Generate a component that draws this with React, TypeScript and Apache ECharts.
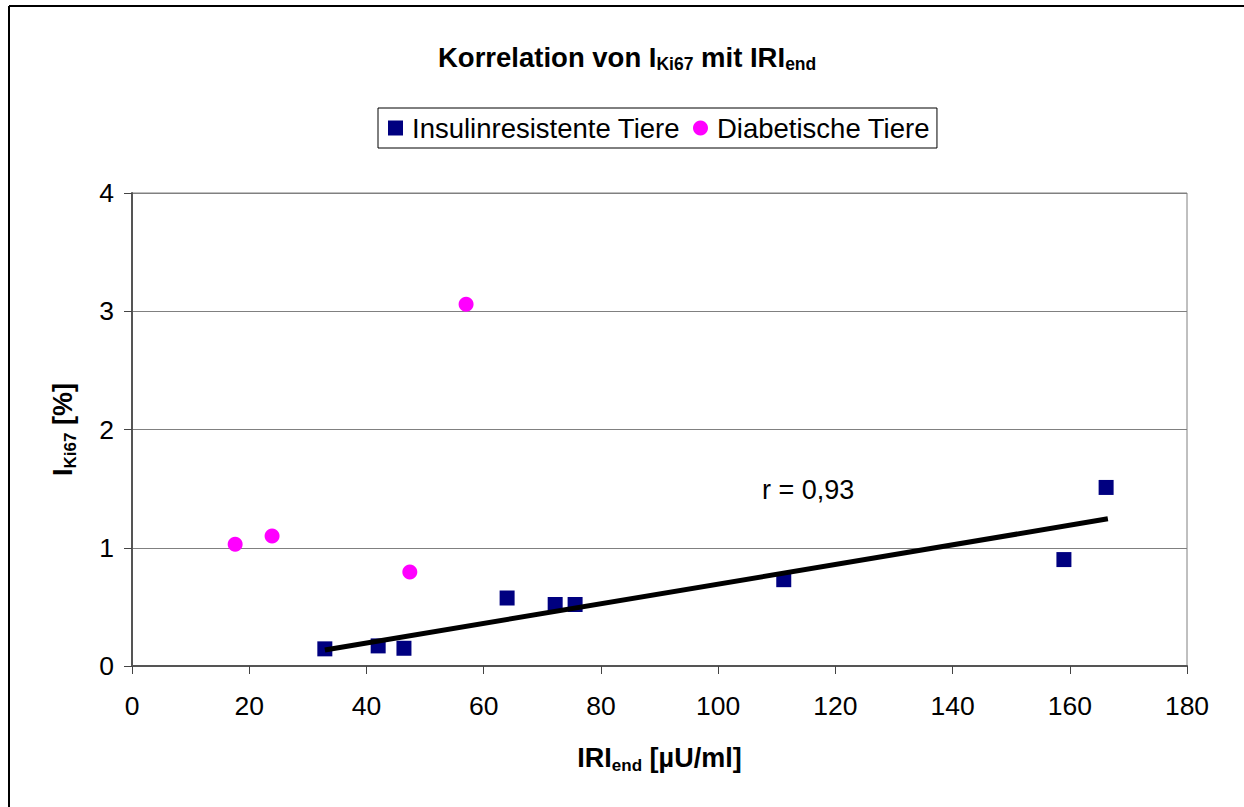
import React, { useEffect, useRef } from "react";
import * as echarts from "echarts";

const insulinResistant: [number, number][] = [
  [32.9, 0.145],
  [42.0, 0.17],
  [46.4, 0.15],
  [64.0, 0.575],
  [72.2, 0.52],
  [75.6, 0.52],
  [111.2, 0.73],
  [159.0, 0.9],
  [166.2, 1.51],
];

const diabetic: [number, number][] = [
  [17.6, 1.03],
  [23.9, 1.1],
  [47.4, 0.795],
  [57.0, 3.06],
];

const trendLine: [number, number][] = [
  [32.9, 0.135],
  [166.5, 1.245],
];

const xTicks = { min: 0, max: 180, interval: 20 };
const yTicks = { min: 0, max: 4, interval: 1 };
const seriesNames = ["Insulinresistente Tiere", "Diabetische Tiere"];
const corrLabel = "r = 0,93";

const FONT = "'Liberation Sans', Arial, sans-serif";

const richTitle = (main: number, sub: number) => ({
  m: { fontFamily: FONT, fontSize: main, fontWeight: "bold", color: "#000", lineHeight: 30, verticalAlign: "top" },
  s: { fontFamily: FONT, fontSize: sub, fontWeight: "bold", color: "#000", lineHeight: sub, verticalAlign: "bottom" },
});

export default function App() {
  const ref = useRef<HTMLDivElement>(null);
  useEffect(() => {
    if (!ref.current) return;
    const chart = echarts.init(ref.current, undefined, { renderer: "svg" });
    chart.setOption({
      animation: false,
      backgroundColor: "#fff",
      textStyle: { fontFamily: FONT },
      title: {
        text: "{m|Korrelation von I}{s|Ki67}{m| mit IRI}{s|end}",
        left: 438,
        top: 43,
        padding: 0,
        textStyle: { rich: richTitle(27.5, 17.5) },
      },
      legend: {
        data: seriesNames,
        left: 378,
        top: 108,
        orient: "horizontal",
        borderColor: "#000",
        borderWidth: 1,
        padding: [6, 7, 6, 10],
        itemGap: 13,
        itemWidth: 15,
        itemHeight: 15,
        textStyle: { fontFamily: FONT, fontSize: 27.5, lineHeight: 28, color: "#000", padding: [0, 0, 0, 4] },
      },
      grid: {
        left: 132,
        top: 193,
        right: 57,
        bottom: 141,
        show: true,
        borderColor: "#808080",
        borderWidth: 1,
      },
      xAxis: {
        type: "value",
        min: xTicks.min,
        max: xTicks.max,
        interval: xTicks.interval,
        name: "{m|IRI}{s|end}{m| [µU/ml]}",
        nameLocation: "middle",
        nameGap: 78,
        nameTextStyle: { rich: richTitle(27, 17) },
        axisLine: { show: true, lineStyle: { color: "#555", width: 2 } },
        axisTick: { show: true, inside: false, length: 8, lineStyle: { color: "#444", width: 1 } },
        axisLabel: { fontFamily: FONT, fontSize: 26.5, color: "#000", margin: 26 },
        splitLine: { show: false },
      },
      yAxis: {
        type: "value",
        min: yTicks.min,
        max: yTicks.max,
        interval: yTicks.interval,
        name: "{m|I}{s|Ki67}{m| [%]}",
        nameLocation: "middle",
        nameRotate: 90,
        nameGap: 53,
        nameTextStyle: { rich: richTitle(27, 17) },
        axisLine: { show: true, lineStyle: { color: "#555", width: 2 } },
        axisTick: { show: true, inside: false, length: 8, lineStyle: { color: "#444", width: 1 } },
        axisLabel: { fontFamily: FONT, fontSize: 26.5, color: "#000", margin: 18 },
        splitLine: { show: true, lineStyle: { color: "#808080", width: 1 } },
      },
      series: [
        {
          name: seriesNames[0],
          type: "scatter",
          symbol: "rect",
          symbolSize: 15,
          itemStyle: { color: "#000080", opacity: 1 },
          data: insulinResistant,
          z: 3,
        },
        {
          name: seriesNames[1],
          type: "scatter",
          symbol: "circle",
          symbolSize: 15,
          itemStyle: { color: "#FF00FF", opacity: 1 },
          data: diabetic,
          z: 3,
        },
        {
          name: "Trend",
          type: "line",
          data: trendLine,
          showSymbol: false,
          symbol: "none",
          lineStyle: { color: "#000", width: 5 },
          z: 4,
          silent: true,
        },
      ],
      graphic: [
        {
          type: "line",
          shape: { x1: 9, y1: 6, x2: 1244, y2: 6 },
          style: { stroke: "#000", lineWidth: 2 },
        },
        {
          type: "line",
          shape: { x1: 9, y1: 6, x2: 9, y2: 807 },
          style: { stroke: "#000", lineWidth: 2 },
        },
        {
          type: "text",
          left: 762,
          top: 476,
          style: { text: corrLabel, fontFamily: FONT, fontSize: 27, fill: "#000" },
        },
      ],
    });
    return () => chart.dispose();
  }, []);
  return (
    <div
      ref={ref}
      style={{ position: "fixed", left: 0, top: 0, width: 1244, height: 807 }}
    />
  );
}
